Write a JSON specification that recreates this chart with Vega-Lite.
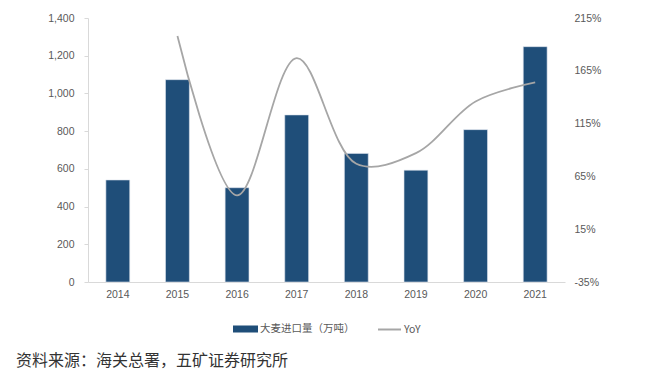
{
  "$schema": "https://vega.github.io/schema/vega-lite/v6.json",
  "width": 477,
  "height": 264,
  "autosize": {"type": "none"},
  "padding": {"left": 88, "top": 18, "right": 103, "bottom": 106},
  "background": "white",
  "data": {
    "values": [
      {"year": "2014", "volume": 541, "yoy": null},
      {"year": "2015", "volume": 1073, "yoy": 198},
      {"year": "2016", "volume": 500, "yoy": 47},
      {"year": "2017", "volume": 886, "yoy": 177},
      {"year": "2018", "volume": 682, "yoy": 77},
      {"year": "2019", "volume": 593, "yoy": 87},
      {"year": "2020", "volume": 808, "yoy": 136},
      {"year": "2021", "volume": 1248, "yoy": 154}
    ]
  },
  "title": {
    "text": "资料来源：海关总署，五矿证券研究所",
    "orient": "bottom",
    "anchor": "start",
    "frame": "group",
    "dx": -72,
    "offset": 17,
    "fontSize": 16,
    "fontWeight": "normal",
    "color": "#333333",
    "font": "Noto Sans CJK SC"
  },
  "encoding": {
    "x": {
      "field": "year",
      "type": "ordinal",
      "scale": {"paddingInner": 0.6, "paddingOuter": 0.3},
      "axis": {
        "title": null,
        "labelAngle": 0,
        "ticks": false,
        "domainColor": "#D9D9D9",
        "labelPadding": 7
      }
    }
  },
  "layer": [
    {
      "mark": {"type": "bar", "fill": "#1F4E79", "stroke": "#DCE3EC", "strokeWidth": 0.6},
      "encoding": {
        "y": {
          "field": "volume",
          "type": "quantitative",
          "scale": {"domain": [0, 1400]},
          "axis": {
            "title": null,
            "values": [0, 200, 400, 600, 800, 1000, 1200, 1400],
            "format": ",.0f",
            "grid": false,
            "domainColor": "#D9D9D9",
            "tickColor": "#D9D9D9",
            "tickSize": 4,
            "labelPadding": 10
          }
        },
        "color": {
          "datum": "大麦进口量（万吨）",
          "scale": {"domain": ["大麦进口量（万吨）", "YoY"], "range": ["#1F4E79", "#A6A6A6"]},
          "legend": {
            "title": null,
            "orient": "bottom",
            "direction": "horizontal",
            "offset": 16,
            "columnPadding": 19,
            "symbolSize": 529,
            "labelOffset": 2,
            "encode": {
              "symbols": {
                "update": {
                  "shape": {"signal": "datum.value === 'YoY' ? 'stroke' : 'M-1,-0.22H1V0.22H-1Z'"},
                  "fill": {"signal": "datum.value === 'YoY' ? 'transparent' : '#1F4E79'"},
                  "stroke": {"signal": "datum.value === 'YoY' ? '#A6A6A6' : 'transparent'"},
                  "strokeWidth": {"value": 2},
                  "opacity": {"value": 1}
                }
              }
            }
          }
        }
      }
    },
    {
      "transform": [{"filter": "datum.yoy != null"}],
      "mark": {"type": "line", "interpolate": "catmull-rom", "strokeWidth": 1.8},
      "encoding": {
        "y": {
          "field": "yoy",
          "type": "quantitative",
          "scale": {"domain": [-35, 215]},
          "axis": {
            "title": null,
            "orient": "right",
            "values": [-35, 15, 65, 115, 165, 215],
            "labelExpr": "datum.value + '%'",
            "grid": false,
            "domain": false,
            "ticks": false,
            "labelPadding": 9
          }
        },
        "color": {
          "datum": "YoY",
          "legend": {
            "title": null,
            "orient": "bottom",
            "direction": "horizontal",
            "offset": 16,
            "columnPadding": 19,
            "symbolSize": 529,
            "labelOffset": 2,
            "encode": {
              "symbols": {
                "update": {
                  "shape": {"signal": "datum.value === 'YoY' ? 'stroke' : 'M-1,-0.22H1V0.22H-1Z'"},
                  "fill": {"signal": "datum.value === 'YoY' ? 'transparent' : '#1F4E79'"},
                  "stroke": {"signal": "datum.value === 'YoY' ? '#A6A6A6' : 'transparent'"},
                  "strokeWidth": {"value": 2},
                  "opacity": {"value": 1}
                }
              }
            }
          }
        }
      }
    }
  ],
  "resolve": {"scale": {"y": "independent"}},
  "config": {
    "font": "Liberation Sans",
    "view": {"stroke": null},
    "axis": {
      "labelFont": "Liberation Sans",
      "labelFontSize": 10.5,
      "labelColor": "#595959"
    },
    "legend": {
      "labelFont": "Noto Sans CJK SC",
      "labelFontSize": 10.5,
      "labelColor": "#595959",
      "layout": {"bottom": {"anchor": "middle"}}
    }
  }
}
